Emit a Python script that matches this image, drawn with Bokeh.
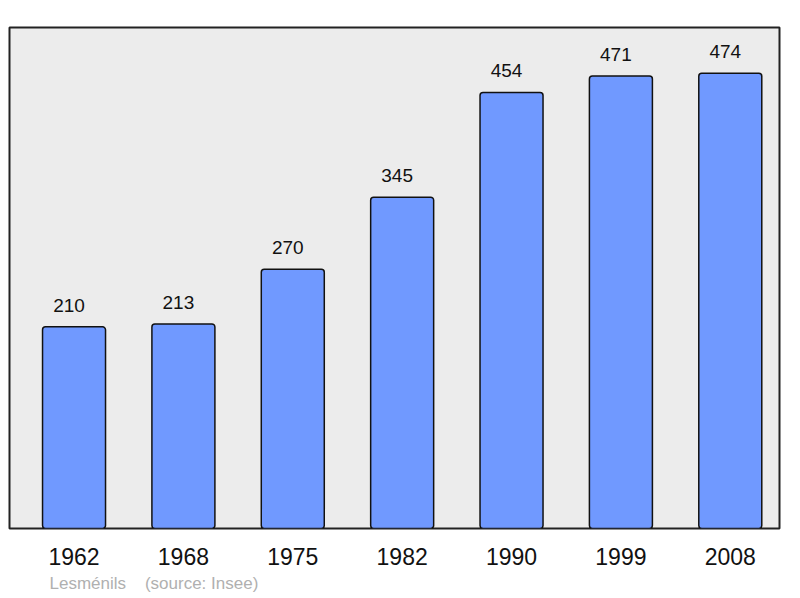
from bokeh.plotting import figure
from bokeh.models import ColumnDataSource, LabelSet, Title, Range1d, FixedTicker
from bokeh.core.properties import value
from bokeh.embed import file_html
from bokeh.resources import INLINE

years = ["1962", "1968", "1975", "1982", "1990", "1999", "2008"]
population = [210, 213, 270, 345, 454, 471, 474]
source_note = "Lesménils\u00a0\u00a0\u00a0 (source: Insee)"

xs = list(range(len(years)))
src = ColumnDataSource(dict(x=xs, pop=population, lbl=[str(v) for v in population]))

p = figure(width=792, height=598, output_backend="svg", toolbar_location=None,
           x_range=Range1d(-0.59, 6.45), y_range=Range1d(0, 521.6),
           min_border_left=9, min_border_right=13, min_border_top=27, min_border_bottom=70)
p.background_fill_color = "#ececec"
p.border_fill_color = "white"
p.outline_line_color = "#222222"
p.outline_line_width = 2
p.grid.visible = False
p.yaxis.visible = False

p.vbar(x="x", top="pop", width=0.576, bottom=0, source=src,
       fill_color="#7099ff", line_color="#111111", line_width=1.5, border_radius=3)

labels = LabelSet(x="x", y="pop", text="lbl", source=src, y_offset=15, x_offset=-5,
                  text_align="center", text_baseline="alphabetic",
                  text_font=value("Liberation Sans"), text_font_size="19px", text_color="#111111")
p.add_layout(labels)

ax = p.xaxis[0]
ax.ticker = FixedTicker(ticks=xs)
ax.major_label_overrides = {i: y for i, y in enumerate(years)}
ax.axis_line_color = None
ax.major_tick_line_color = None
ax.minor_tick_line_color = None
ax.major_tick_out = 0
ax.major_tick_in = 0
ax.major_label_standoff = 19
ax.major_label_text_font = "Liberation Sans"
ax.major_label_text_font_size = "23px"
ax.major_label_text_color = "#111111"

note = Title(text=source_note, align="left", offset=40, standoff=8,
             text_font="Liberation Sans", text_font_size="17px",
             text_font_style="normal", text_color="#b0b0b0")
p.add_layout(note, "below")

open("out.html", "w").write(file_html(p, INLINE))
